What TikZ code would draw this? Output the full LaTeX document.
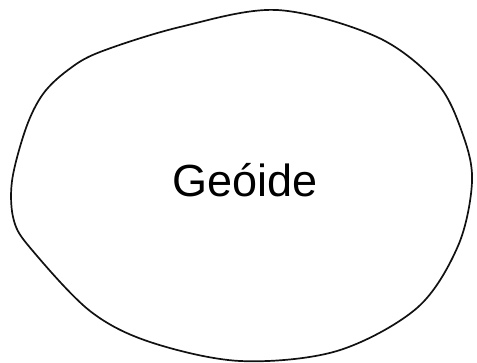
\documentclass[tikz,border=0pt]{standalone}
\usepackage{fontspec}
\setmainfont{Liberation Sans}
\usetikzlibrary{positioning}
\definecolor{linegray}{HTML}{111111}

\begin{document}
\begin{tikzpicture}[
  x=1pt, y=-1pt,
  outline/.style={draw=linegray, line width=1.7pt, line join=round},
  label/.style={font=\fontsize{45}{54}\selectfont, inner sep=0pt}
]
  \useasboundingbox (0,0) rectangle (477,363);
  \draw[outline] plot[smooth cycle, tension=0.55] coordinates {
    (277,10) (377,37) (437,83) (463,135) (472,182) (458,246) (417,308)
    (337,351) (240,361) (150,342) (90,311) (32,250) (14,221) (12,181)
    (26,128) (43,94) (68,70) (100,52) (180,27)};
  \node[label] (geoide) at (245,180) {Geóide};
\end{tikzpicture}
\end{document}
